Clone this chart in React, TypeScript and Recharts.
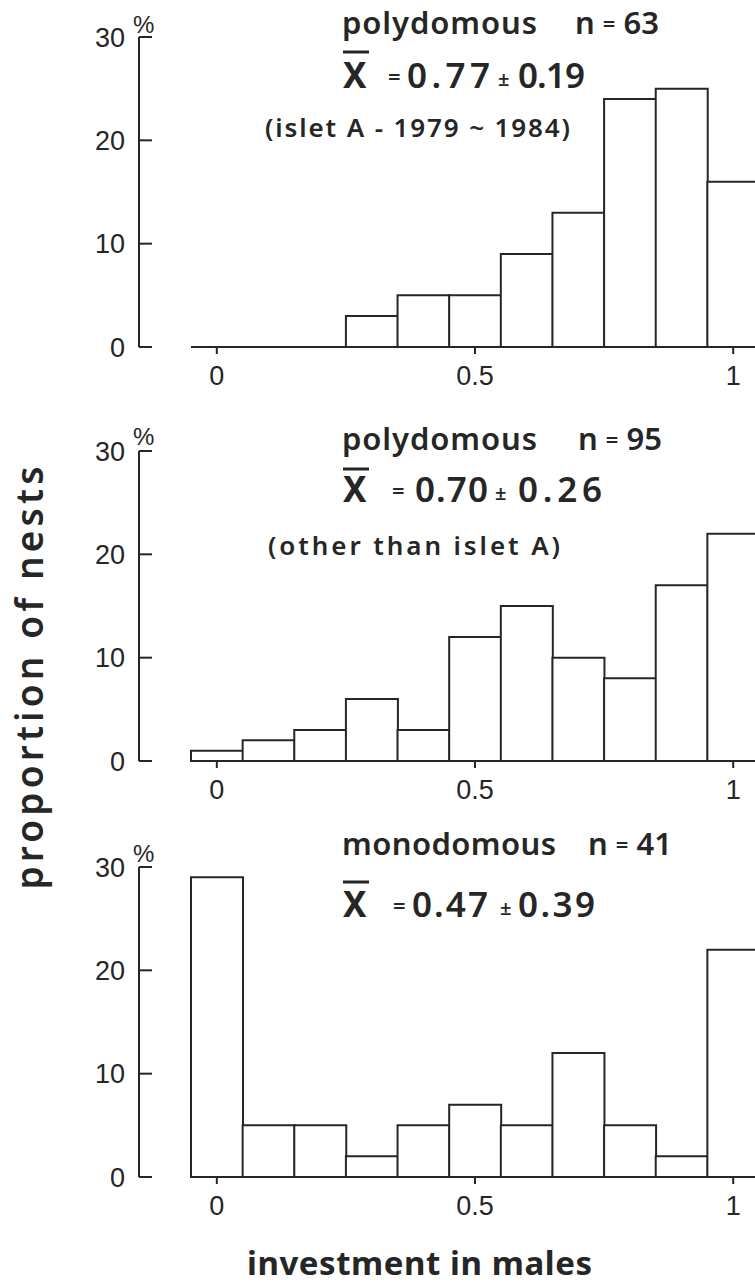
import { Bar, BarChart, XAxis, YAxis } from 'recharts';

// bins are centred on 0, 0.1, ... 1 (width 0.1)
const bins = ['0', '0.1', '0.2', '0.3', '0.4', '0.5', '0.6', '0.7', '0.8', '0.9', '1'];
const polyIsletA = [0, 0, 0, 3, 5, 5, 9, 13, 24, 25, 16];
const polyOther = [1, 2, 3, 6, 3, 12, 15, 10, 8, 17, 22];
const monodomous = [29, 5, 5, 2, 5, 7, 5, 12, 5, 2, 22];
const yTicks = [0, 10, 20, 30];

const titles = ['polydomous', 'polydomous', 'monodomous'];
const counts = ['63', '95', '41'];
const means = ['0.77', '0.70', '0.47'];
const sds = ['0.19', '0.26', '0.39'];
const notes = ['(islet A - 1979 ~ 1984)', '(other than islet A)', ''];

const ink = '#262626';
const tickFont = "'Liberation Sans', Arial, sans-serif";
const textFont = "'Noto Sans', sans-serif";
const line = { stroke: ink, strokeWidth: 2 };
const tickStyle = { fill: ink, fontSize: 27, fontFamily: tickFont };

const Panel = ({ values, top }: { values: number[]; top: number }) => {
  const data = bins.map((bin, i) => ({ bin, pct: values[i] }));
  return (
    <div style={{ position: 'absolute', left: 0, top }}>
      <BarChart
        width={759}
        height={407}
        data={data}
        margin={{ top: 37, right: 0, bottom: 0, left: 0 }}
        barCategoryGap={0}
        barGap={0}
      >
        <XAxis
          dataKey='bin'
          height={60}
          interval={4}
          tickSize={7}
          tickMargin={12}
          axisLine={line}
          tickLine={line}
          tick={tickStyle}
        />
        {/* empty spacer so the visible y axis sits left of the bars */}
        <YAxis yAxisId='gap' width={52} type='number' domain={[0, 30]} axisLine={false} tickLine={false} tick={false} />
        <YAxis
          yAxisId='pct'
          width={139}
          type='number'
          domain={[0, 30]}
          ticks={yTicks}
          tickSize={-13}
          tickMargin={27}
          axisLine={line}
          tickLine={line}
          tick={tickStyle}
        />
        <Bar yAxisId='pct' dataKey='pct' fill='#fff' stroke={ink} strokeWidth={2} isAnimationActive={false} />
      </BarChart>
    </div>
  );
};

// text positions for the three panel headers
const heads = [
  { t: 34, xbar: 52, xl: 88, eq: 388, m: 407, mW: 83, pm: 498, sd: 518, sdW: 67, note: 137, noteX: 265, noteW: 305, n: 575, tW: 195 },
  { t: 450, xbar: 469, xl: 502, eq: 392, m: 415, mW: 73, pm: 495, sd: 518, sdW: 84, note: 555, noteX: 268, noteW: 292, n: 578, tW: 195 },
  { t: 855, xbar: 882, xl: 917, eq: 393, m: 412, mW: 76, pm: 500, sd: 518, sdW: 77, note: 0, noteX: 0, noteW: 0, n: 588, tW: 214 },
];
const pctY = [33, 445, 862];

const Overlay = () => (
  <svg width={755} height={1286} style={{ position: 'absolute', left: 0, top: 0, pointerEvents: 'none' }}>
    {heads.map((h, i) => (
      <g key={i} fill={ink} fontFamily={textFont}>
        <text x={342} y={h.t} fontSize={31} fontWeight={600} textLength={h.tW}>{titles[i]}</text>
        <text x={h.n} y={h.t} fontSize={31} fontWeight={600}>
          <tspan>n </tspan>
          <tspan fontSize={22} dy={-2}>=</tspan>
          <tspan dy={2}> {counts[i]}</tspan>
        </text>
        <line x1={343} x2={369} y1={h.xbar} y2={h.xbar} stroke={ink} strokeWidth={3} />
        <text x={343} y={h.xl} fontSize={35} fontWeight={700}>X</text>
        <text x={h.eq} y={h.xl - 3} fontSize={22} fontWeight={600}>=</text>
        <text x={h.m} y={h.xl} fontSize={35} fontWeight={600} textLength={h.mW}>{means[i]}</text>
        <text x={h.pm} y={h.xl - 2} fontSize={20} fontWeight={600}>±</text>
        <text x={h.sd} y={h.xl} fontSize={35} fontWeight={600} textLength={h.sdW}>{sds[i]}</text>
        {notes[i] && (
          <text x={h.noteX} y={h.note} fontSize={26} fontWeight={600} textLength={h.noteW}>{notes[i]}</text>
        )}
        <text x={133} y={pctY[i]} fontSize={24} fontFamily={tickFont}>%</text>
      </g>
    ))}
    <text
      transform='translate(43 678) rotate(-90)'
      textAnchor='middle'
      fill={ink}
      fontFamily={textFont}
      fontSize={37}
      fontWeight={600}
      textLength={423}
    >
      proportion of nests
    </text>
    <text x={247} y={1275} fill={ink} fontFamily={textFont} fontSize={33} fontWeight={700} textLength={345}>
      investment in males
    </text>
  </svg>
);

export default function App() {
  return (
    <div style={{ position: 'relative', width: 755, height: 1286, overflow: 'hidden', background: '#fff' }}>
      <style>{'html,body{margin:0;padding:0;overflow:hidden}'}</style>
      <Panel values={polyIsletA} top={0} />
      <Panel values={polyOther} top={414} />
      <Panel values={monodomous} top={830} />
      <Overlay />
    </div>
  );
}
